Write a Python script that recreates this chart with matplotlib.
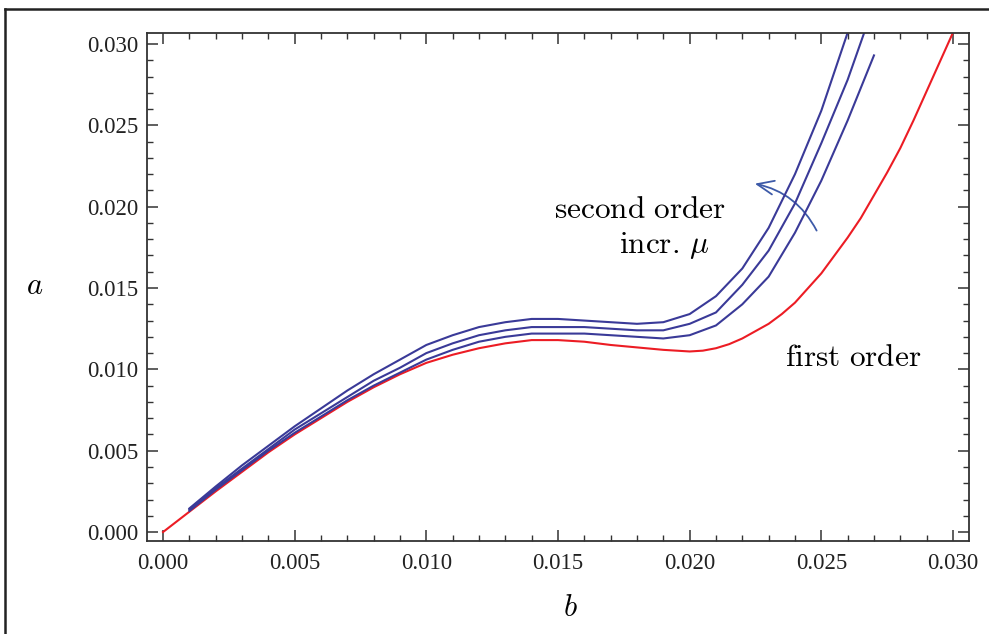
import numpy as np
import matplotlib
matplotlib.use("Agg")
import matplotlib.pyplot as plt
from matplotlib.lines import Line2D
from matplotlib.patches import FancyArrowPatch
from matplotlib.ticker import MultipleLocator, FormatStrFormatter

plt.rcParams['mathtext.fontset'] = 'cm'

# first order curve
b_first = [0.000, 0.001, 0.002, 0.003, 0.004, 0.005, 0.006, 0.007, 0.008, 0.009,
           0.010, 0.011, 0.012, 0.013, 0.014, 0.015, 0.016, 0.017, 0.018, 0.019,
           0.020, 0.0205, 0.021, 0.0215, 0.022, 0.0225, 0.023, 0.0235, 0.024, 0.0245,
           0.025, 0.0255, 0.026, 0.0265, 0.027, 0.0275, 0.028, 0.0285, 0.029, 0.0295, 0.030]
a_first = [0.0000, 0.00125, 0.0025, 0.0037, 0.0049, 0.0060, 0.0070, 0.0080, 0.0089, 0.0097,
           0.0104, 0.0109, 0.0113, 0.0116, 0.0118, 0.0118, 0.0117, 0.0115, 0.01135, 0.0112,
           0.0111, 0.01115, 0.0113, 0.01155, 0.0119, 0.01235, 0.0128, 0.0134, 0.0141, 0.0150,
           0.0159, 0.0170, 0.0181, 0.0193, 0.0207, 0.0221, 0.0236, 0.0253, 0.0271, 0.0289, 0.0307]

# second order curves (three values of mu)
b_second = [0.001, 0.002, 0.003, 0.004, 0.005, 0.006, 0.007, 0.008, 0.009, 0.010,
            0.011, 0.012, 0.013, 0.014, 0.015, 0.016, 0.017, 0.018, 0.019, 0.020,
            0.021, 0.022, 0.023, 0.024, 0.025, 0.026, 0.027]
a_mu1 = [0.0013, 0.0026, 0.0038, 0.0050, 0.0061, 0.0071, 0.0081, 0.0090, 0.0098, 0.0106,
         0.0112, 0.0117, 0.0120, 0.0122, 0.0122, 0.0122, 0.0121, 0.0120, 0.0119, 0.0121,
         0.0127, 0.0140, 0.0157, 0.0184, 0.0216, 0.0253, 0.0293]
a_mu2 = [0.0014, 0.0027, 0.0039, 0.0051, 0.0063, 0.0073, 0.0083, 0.0093, 0.0101, 0.0110,
         0.0116, 0.0121, 0.0124, 0.0126, 0.0126, 0.0126, 0.0125, 0.0124, 0.0124, 0.0128,
         0.0135, 0.0152, 0.0173, 0.0202, 0.0239, 0.0278, 0.0324]
a_mu3 = [0.00145, 0.0028, 0.0041, 0.0053, 0.0065, 0.0076, 0.0087, 0.0097, 0.0106, 0.0115,
         0.0121, 0.0126, 0.0129, 0.0131, 0.0131, 0.0130, 0.0129, 0.0128, 0.0129, 0.0134,
         0.0145, 0.0162, 0.0187, 0.0220, 0.0259, 0.0307]

blue = '#3a3a98'
red = '#ec1c24'

fig = plt.figure(figsize=(9.89, 6.34), dpi=100)
ax = fig.add_axes([0.1486, 0.1467, 0.8312, 0.8008])

ax.plot(b_first, a_first, color=red, lw=1.5)
ax.plot(b_second, a_mu1, color=blue, lw=1.5)
ax.plot(b_second, a_mu2, color=blue, lw=1.5)
ax.plot(b_second[:len(a_mu3)], a_mu3, color=blue, lw=1.5)

ax.set_xlim(-0.00061, 0.03061)
ax.set_ylim(-0.00055, 0.03066)

for ax_ in [ax.xaxis, ax.yaxis]:
    ax_.set_major_locator(MultipleLocator(0.005))
    ax_.set_minor_locator(MultipleLocator(0.001))
    ax_.set_major_formatter(FormatStrFormatter('%.3f'))

ax.tick_params(which='both', direction='in', top=True, right=True, color='#333333')
ax.tick_params(which='major', length=8, width=1.1)
ax.tick_params(which='minor', length=4.5, width=1.0)
ax.tick_params(axis='x', which='major', pad=9)
ax.tick_params(axis='y', which='major', pad=6)
for lab in ax.get_xticklabels() + ax.get_yticklabels():
    lab.set_fontfamily('Liberation Serif')
    lab.set_fontsize(16.5)
    lab.set_color('#222222')
for sp in ax.spines.values():
    sp.set_color('#333333')
    sp.set_linewidth(1.3)

fig.text(570 / 989, 1 - 607 / 634, '$b$', fontsize=22, ha='center', va='center')
fig.text(35 / 989, 1 - 285 / 634, '$a$', fontsize=22, ha='center', va='center')

ax.text(0.01811, 0.0198, r'$\mathrm{second\ order}$', fontsize=22.5, ha='center', va='center')
ax.text(0.01906, 0.01764, r'$\mathrm{incr.}\,\mu$', fontsize=22.5, ha='center', va='center')
ax.text(0.0262, 0.01076, r'$\mathrm{first\ order}$', fontsize=22.5, ha='center', va='center')

arr = FancyArrowPatch((0.02487, 0.01838), (0.02237, 0.02145),
                      connectionstyle='arc3,rad=0.25', arrowstyle='->,head_length=12,head_width=5',
                      color='#3d5aa8', lw=1.3)
ax.add_patch(arr)

# partial outer frame
fig.add_artist(Line2D([5 / 989, 1.0], [1 - 9 / 634, 1 - 9 / 634], color='#222222', lw=1.8))
fig.add_artist(Line2D([5 / 989, 5 / 989], [0.0, 1 - 9 / 634], color='#222222', lw=1.8))

fig.savefig('out.png', dpi=100)
